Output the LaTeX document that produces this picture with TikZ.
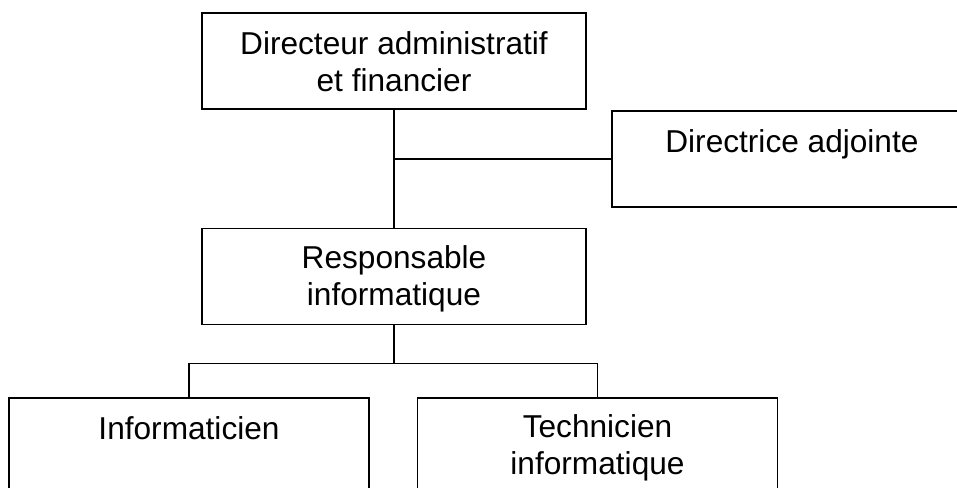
\documentclass[tikz,border=0pt]{standalone}
\usepackage{fontspec}
\setmainfont{Liberation Sans}
\usepackage{tikz}
\usetikzlibrary{positioning,calc}
\newcommand{\bstrut}{\rule[-2pt]{0pt}{17.5pt}}
\tikzstyle{block} = [rectangle, draw, fill=white, align=center, inner sep=0pt, minimum width=7.68cm, minimum height=1.92cm, font=\fontsize{18pt}{21pt}\selectfont]
\tikzstyle{block2} = [block, minimum width=7.2cm]

\begin{document}
\begin{tikzpicture}[line width=1.1pt]
        \clip (0,0) rectangle (19.14,-9.76);
        \node[block] (dir) at (7.88,-1.22) {\bstrut Directeur administratif\\ \bstrut et financier};
        \node[block2, below right=0cm and 0.48cm of dir] (adj) {\bstrut Directrice adjointe\\ \bstrut};
        \node[block, below of=dir, node distance=4.31cm] (resp) {\bstrut Responsable\\ \bstrut informatique};
        \node[block2, below of=resp, node distance=3.39cm, xshift=-4.1cm] (info) {\bstrut Informaticien\\ \bstrut};
        \node[block2, below of=resp, node distance=3.39cm, xshift=4.07cm] (tech) {\bstrut Technicien\\ \bstrut informatique};

        \coordinate (fork) at ($(resp.south)+(0,-0.76)$);

        \draw (dir.south) -- (resp.north);
        \draw (adj.west) -| (dir.south);
        \draw (resp.south) -- (fork);
        \draw (info.north) |- (fork) -| (tech.north);

    \end{tikzpicture}
\end{document}
